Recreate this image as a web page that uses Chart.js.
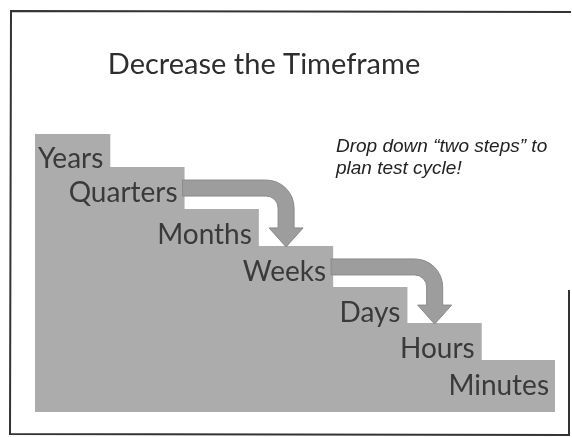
<!DOCTYPE html>
<html lang="en">

<head>
  <meta charset="UTF-8" />
  <title>Decrease the Timeframe</title>
  <script src="https://cdn.jsdelivr.net/npm/chart.js"></script>
  <style>
    html,
    body {
      margin: 0;
      padding: 0;
      background: #fff;
    }

    .chart-wrapper {
      width: 572px;
      height: 437px;
    }
  </style>
</head>

<body>
  <div class="chart-wrapper">
    <canvas id="chart"></canvas>
  </div>

  <script>
    // step names and their heights (in "steps" above the floor)
    const steps = ["Years", "Quarters", "Months", "Weeks", "Days", "Hours", "Minutes"];
    const levels = [8, 7.02, 5.81, 4.75, 3.57, 2.53, 1.47];
    // arrows drop two steps: from -> to
    const arrows = [["Quarters", "Weeks"], ["Weeks", "Hours"]];
    const titleText = "Decrease the Timeframe";
    const noteLines = ["Drop down \u201ctwo steps\u201d to", "plan test cycle!"];

    const stepColor = "#acacac";
    const arrowColor = "#9d9d9d";
    const textColor = "#3a3a3a";

    function drawArrow(ctx, x0, yc, xs, tipY) {
      const t = 16, R = 28, hw = 17, headLen = 19;
      const cx = xs + t / 2 - R;
      const cy = yc - t / 2 + R;
      const baseY = tipY - headLen;
      ctx.beginPath();
      ctx.moveTo(x0, yc - t / 2);
      ctx.lineTo(cx, yc - t / 2);
      ctx.arc(cx, cy, R, -Math.PI / 2, 0);
      ctx.lineTo(xs + t / 2, baseY);
      ctx.lineTo(xs + hw, baseY);
      ctx.lineTo(xs, tipY);
      ctx.lineTo(xs - hw, baseY);
      ctx.lineTo(xs - t / 2, baseY);
      ctx.lineTo(xs - t / 2, cy);
      ctx.arc(cx, cy, R - t, 0, -Math.PI / 2, true);
      ctx.lineTo(x0, yc + t / 2);
      ctx.closePath();
      ctx.fillStyle = arrowColor;
      ctx.fill();
      ctx.strokeStyle = "#8a8a8a";
      ctx.lineWidth = 1;
      ctx.stroke();
    }

    const slidePlugin = {
      id: "slide",
      beforeDraw(chart) {
        const ctx = chart.ctx;
        ctx.save();
        // slide frame
        ctx.strokeStyle = "#333";
        ctx.lineWidth = 2;
        ctx.beginPath();
        ctx.moveTo(571, 12);
        ctx.lineTo(11, 11);
        ctx.lineTo(10, 434);
        ctx.lineTo(569, 435);
        ctx.lineTo(569, 290);
        ctx.stroke();
        // title
        ctx.fillStyle = "#2e2e2e";
        ctx.font = "29px Lato";
        ctx.textAlign = "center";
        ctx.textBaseline = "alphabetic";
        ctx.fillText(titleText, 264, 74);
        // note
        ctx.font = "italic 19px 'Liberation Sans'";
        ctx.textAlign = "left";
        ctx.fillStyle = "#222";
        noteLines.forEach((line, i) => ctx.fillText(line, 336, 152 + i * 22));
        ctx.restore();
      },
      afterDatasetsDraw(chart) {
        const ctx = chart.ctx;
        const meta = chart.getDatasetMeta(0);
        ctx.save();
        // step labels
        ctx.font = "28px Lato";
        ctx.fillStyle = textColor;
        ctx.textAlign = "right";
        ctx.textBaseline = "alphabetic";
        meta.data.forEach((bar, i) => {
          ctx.fillText(steps[i], bar.x + bar.width / 2 - 6, bar.y + 34);
        });
        // arrows
        arrows.forEach(([from, to]) => {
          const a = meta.data[steps.indexOf(from)];
          const b = meta.data[steps.indexOf(to)];
          const x0 = a.x + a.width / 2 - 1;
          const yc = a.y + 20;
          const xs = b.x - b.width / 2 + b.width * 0.38;
          drawArrow(ctx, x0, yc, xs, b.y);
        });
        ctx.restore();
      },
    };

    new Chart(document.getElementById("chart"), {
      type: "bar",
      data: {
        labels: steps,
        datasets: [
          {
            data: levels,
            backgroundColor: stepColor,
            borderWidth: 0,
            inflateAmount: 1,
            categoryPercentage: 1,
            barPercentage: 1,
          },
        ],
      },
      options: {
        animation: false,
        responsive: true,
        maintainAspectRatio: false,
        layout: { padding: { left: 35, right: 17, top: 134, bottom: 25 } },
        plugins: {
          legend: { display: false },
          tooltip: { enabled: false },
        },
        scales: {
          x: { display: false },
          y: { display: false, min: 0, max: 8 },
        },
      },
      plugins: [slidePlugin],
    });
  </script>
</body>

</html>
